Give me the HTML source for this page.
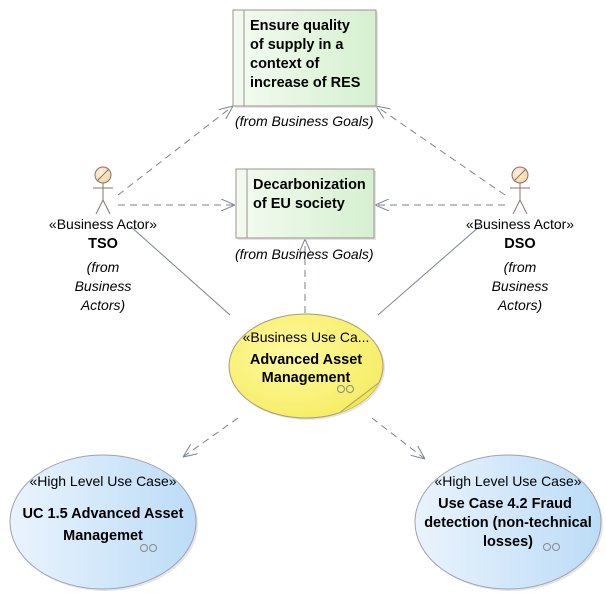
<!DOCTYPE html>
<html><head><meta charset="utf-8"><style>
html,body{margin:0;padding:0;background:#fff;}
svg{display:block;font-family:"Liberation Sans",sans-serif;}
.b{font-weight:bold;font-size:14.5px;fill:#000;}
.n{font-size:14px;fill:#000;}
.i{font-style:italic;font-size:14px;fill:#000;}
</style></head><body>
<svg width="606" height="593" viewBox="0 0 606 593" xmlns="http://www.w3.org/2000/svg">
<defs>
<linearGradient id="g" x1="0" x2="1"><stop offset="0" stop-color="#f3fbf1"/><stop offset="1" stop-color="#d6f0d0"/></linearGradient>
<linearGradient id="bl" x1="0" x2="1"><stop offset="0" stop-color="#eaf3fd"/><stop offset="1" stop-color="#bcdcf7"/></linearGradient>
<radialGradient id="y" cx="0.4" cy="0.4" r="0.7"><stop offset="0" stop-color="#fff9a0"/><stop offset="1" stop-color="#f5ec60"/></radialGradient>
<radialGradient id="h" cx="0.4" cy="0.4" r="0.7"><stop offset="0" stop-color="#fff4dd"/><stop offset="1" stop-color="#f3d29a"/></radialGradient>
<marker id="a" viewBox="0 0 14 12" refX="14" refY="6" markerWidth="14" markerHeight="12" markerUnits="userSpaceOnUse" orient="auto">
<polyline points="0,0 14,6 0,12" fill="none" stroke="#7a8195" stroke-width="1"/>
</marker>
<clipPath id="ce"><ellipse cx="306" cy="366" rx="77" ry="52"/></clipPath>
</defs>
<g stroke="#7a8195" stroke-width="1" fill="none">
<g stroke-dasharray="7,5">
<line x1="118" y1="195" x2="233" y2="106" marker-end="url(#a)"/>
<line x1="118" y1="205" x2="235" y2="205" marker-end="url(#a)"/>
<line x1="505" y1="195" x2="376" y2="106" marker-end="url(#a)"/>
<line x1="505" y1="205" x2="375" y2="205" marker-end="url(#a)"/>
<line x1="305" y1="313" x2="305" y2="239" marker-end="url(#a)"/>
<line x1="238" y1="418" x2="183" y2="457" marker-end="url(#a)"/>
<line x1="372" y1="418" x2="425" y2="459" marker-end="url(#a)"/>
</g>
<line x1="130" y1="226" x2="230" y2="315"/>
<line x1="480" y1="226" x2="378" y2="315"/>
</g>
<rect x="235" y="12" width="143" height="96" fill="#ccc" opacity="0.5"/>
<rect x="233" y="10" width="143" height="96" fill="url(#g)" stroke="#a08f8f"/>
<line x1="244" y1="10" x2="244" y2="106" stroke="#a08f8f"/>
<text class="b" x="250" y="30">Ensure quality</text>
<text class="b" x="250" y="49">of supply in a</text>
<text class="b" x="250" y="68">context of</text>
<text class="b" x="250" y="87">increase of RES</text>
<text class="i" x="235" y="126">(from Business Goals)</text>

<rect x="238" y="171" width="138" height="69" fill="#ccc" opacity="0.5"/>
<rect x="236" y="169" width="138" height="69" fill="url(#g)" stroke="#a08f8f"/>
<line x1="247" y1="169" x2="247" y2="238" stroke="#a08f8f"/>
<text class="b" x="253" y="189">Decarbonization</text>
<text class="b" x="253" y="208">of EU society</text>
<text class="i" x="235" y="259">(from Business Goals)</text>

<g stroke="#8b7070" fill="none">
<circle cx="103" cy="175" r="8" fill="url(#h)"/>
<line x1="97" y1="181" x2="109" y2="169"/>
<line x1="103" y1="183" x2="103" y2="200"/><line x1="93" y1="188" x2="113" y2="188"/>
<line x1="103" y1="200" x2="96" y2="214"/><line x1="103" y1="200" x2="110" y2="214"/>
<circle cx="520" cy="175" r="8" fill="url(#h)"/>
<line x1="514" y1="181" x2="526" y2="169"/>
<line x1="520" y1="183" x2="520" y2="200"/><line x1="510" y1="188" x2="530" y2="188"/>
<line x1="520" y1="200" x2="513" y2="214"/><line x1="520" y1="200" x2="527" y2="214"/>
</g>
<g text-anchor="middle">
<text class="n" x="103" y="229">«Business Actor»</text>
<text class="b" x="103" y="248">TSO</text>
<text class="i" x="103" y="272">(from</text>
<text class="i" x="103" y="291">Business</text>
<text class="i" x="103" y="310">Actors)</text>
<text class="n" x="520" y="229">«Business Actor»</text>
<text class="b" x="520" y="248">DSO</text>
<text class="i" x="520" y="272">(from</text>
<text class="i" x="520" y="291">Business</text>
<text class="i" x="520" y="310">Actors)</text>
</g>

<ellipse cx="308" cy="368" rx="77" ry="52" fill="#ccc" opacity="0.5"/>
<ellipse cx="306" cy="366" rx="77" ry="52" fill="url(#y)" stroke="#a89a7a"/>
<g clip-path="url(#ce)">
<path d="M385,378 L330,420 L390,420 Z" fill="#f2e84a"/>
<path d="M385,378 L330,420" stroke="#a89a7a" fill="none"/>
</g>
<g text-anchor="middle">
<text class="n" x="306" y="342">«Business Use Ca...</text>
<text class="b" x="306" y="364">Advanced Asset</text>
<text class="b" x="306" y="382">Management</text>
</g>
<g stroke="#888" fill="none"><circle cx="341" cy="389" r="3.5"/><circle cx="350" cy="389" r="3.5"/></g>

<ellipse cx="105" cy="524" rx="93" ry="67" fill="#ccc" opacity="0.5"/>
<ellipse cx="103" cy="522" rx="93" ry="67" fill="url(#bl)" stroke="#a0a0b0"/>
<g text-anchor="middle">
<text class="n" x="103" y="486" fill="#333">«High Level Use Case»</text>
<text class="b" x="103" y="518">UC 1.5 Advanced Asset</text>
<text class="b" x="103" y="540">Managemet</text>
</g>
<g stroke="#888" fill="none"><circle cx="144" cy="548" r="3.5"/><circle cx="153" cy="548" r="3.5"/></g>

<ellipse cx="510" cy="524" rx="93" ry="67" fill="#ccc" opacity="0.5"/>
<ellipse cx="508" cy="522" rx="93" ry="67" fill="url(#bl)" stroke="#a0a0b0"/>
<g text-anchor="middle">
<text class="n" x="508" y="486" fill="#333">«High Level Use Case»</text>
<text class="b" x="505" y="508">Use Case 4.2 Fraud</text>
<text class="b" x="508" y="527">detection (non-technical</text>
<text class="b" x="508" y="546">losses)</text>
</g>
<g stroke="#888" fill="none"><circle cx="547" cy="547" r="3.5"/><circle cx="556" cy="547" r="3.5"/></g>
</svg>
</body></html>
